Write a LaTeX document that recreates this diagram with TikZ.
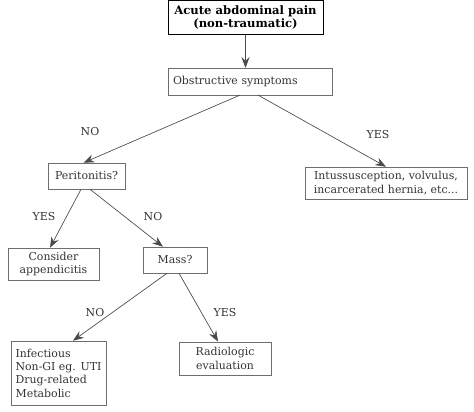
\documentclass[tikz,border=0pt]{standalone}
\usepackage{fontspec}
\setmainfont{DejaVu Serif}
\usepackage{tikz}
\usetikzlibrary{arrows.meta,calc}
\definecolor{linegray}{HTML}{4A4A4A}
\definecolor{boxgray}{HTML}{6E6E6E}
\definecolor{textgray}{HTML}{333333}
\tikzset{
box/.style = {rectangle, draw=boxgray, minimum width = #1, inner sep=2pt,
              align=center, text=textgray, font=\fontsize{8.2}{10}\selectfont},
box/.default = 2cm % width of the box
}
\tikzset{
arr/.style = {-{Stealth[length=8pt,width=6pt]}, draw=linegray, line width=0.5pt}
}
\tikzset{
lbl/.style = {text=textgray, font=\fontsize{8.2}{10}\selectfont}
}

\begin{document}
\begin{tikzpicture}[x=0.75pt, y=-0.75pt]
    \useasboundingbox (0,0) rectangle (474,411);

    \node[box=116pt, minimum height=25.5pt, draw=black, text=black, font=\fontsize{8.7}{10}\selectfont\bfseries] (painBox) at (245.5,17.5) {Acute abdominal pain\\(non-traumatic)};
    \node[box=123pt, minimum height=20pt, inner xsep=3.75pt, text width=115.5pt, align=left] (obstrBox) at (250,81.5) {Obstructive symptoms};
    \node[box=58pt, minimum height=19.5pt] (peritBox) at (86.5,176) {Peritonitis?};
    \node[box=121.5pt, minimum height=24pt] (intusBox) at (386,183) {Intussusception, volvulus,\\incarcerated hernia, etc...};
    \node[box=68pt, minimum height=24pt] (appendBox) at (53.5,264) {Consider\\appendicitis};
    \node[box=48pt, minimum height=19.5pt] (massBox) at (175,260) {Mass?};
    \node[box=71pt, minimum height=48pt, align=left] (infectBox) at (58.5,373) {Infectious\\Non-GI eg. UTI\\Drug-related\\Metabolic};
    \node[box=69pt, minimum height=25pt] (radioBox) at (225,358.5) {Radiologic\\evaluation};

    \draw[arr] (painBox.south) -- (painBox.south |- obstrBox.north);
    \draw[arr] ($(obstrBox.south)+(-10,0)$) -- ($(peritBox.north)+(-3,0)$);
    \draw[arr] ($(obstrBox.south)+(8,0)$) -- (intusBox.north);
    \draw[arr] ($(peritBox.south)+(-5.5,0)$) -- ($(appendBox.north)+(-3.5,0)$);
    \draw[arr] ($(peritBox.south)+(3.5,0)$) -- ($(massBox.north)+(-12,0)$);
    \draw[arr] ($(massBox.south)+(-8,0)$) -- ($(infectBox.north)+(14.5,0)$);
    \draw[arr] ($(massBox.south)+(4,0)$) -- ($(radioBox.north)+(-7,0)$);

    \node[lbl] (noObstr) at (90,132) {NO};
    \node[lbl] (yesObstr) at (378,135) {YES};
    \node[lbl] (yesPerit) at (44,217) {YES};
    \node[lbl] (noPerit) at (153,217) {NO};
    \node[lbl] (noMass) at (95,313) {NO};
    \node[lbl] (yesMass) at (225,313) {YES};
\end{tikzpicture}
\end{document}
